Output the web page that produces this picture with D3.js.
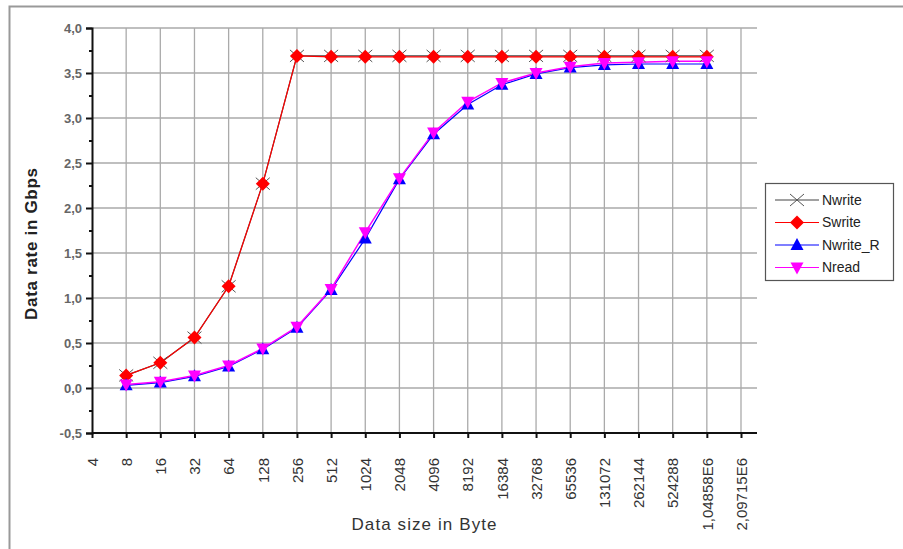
<!DOCTYPE html>
<html>
<head>
<meta charset="utf-8">
<script src="https://cdn.jsdelivr.net/npm/d3@7"></script>
<style>
  body { margin: 0; background: #fff; }
  text { font-family: Arial, "Liberation Sans", sans-serif; }
</style>
</head>
<body>
<div id="canvas"></div>
<script>
// x categories (data size in byte)
const sizes = ["4", "8", "16", "32", "64", "128", "256", "512", "1024", "2048", "4096", "8192",
  "16384", "32768", "65536", "131072", "262144", "524288", "1,04858E6", "2,09715E6"];
// points are measured from 8 up to 1,04858E6
const measured = sizes.slice(1, 19);

const nwrite  = [0.14, 0.28, 0.56, 1.13, 2.27, 3.69, 3.69, 3.69, 3.69, 3.69, 3.69, 3.69, 3.69, 3.69, 3.69, 3.69, 3.69, 3.69];
const swrite  = [0.14, 0.28, 0.56, 1.13, 2.27, 3.69, 3.68, 3.68, 3.68, 3.68, 3.68, 3.68, 3.68, 3.68, 3.68, 3.68, 3.68, 3.68];
const nwriteR = [0.03, 0.06, 0.13, 0.24, 0.43, 0.67, 1.09, 1.66, 2.32, 2.82, 3.15, 3.37, 3.49, 3.56, 3.59, 3.60, 3.60, 3.60];
const nread   = [0.04, 0.07, 0.14, 0.25, 0.44, 0.68, 1.10, 1.73, 2.33, 2.84, 3.18, 3.39, 3.50, 3.57, 3.61, 3.62, 3.63, 3.63];

const yTicks = [-0.5, 0, 0.5, 1, 1.5, 2, 2.5, 3, 3.5, 4];

const w = 903, h = 549;

const svg = d3.select("#canvas").append("svg").attr("width", w).attr("height", h);

// outer frame
svg.append("rect").attr("x", 9.5).attr("y", 6.5).attr("width", 1000).attr("height", 1000)
  .attr("fill", "none").attr("stroke", "#999").attr("stroke-width", 2);

const x = d3.scalePoint().domain(sizes).range([92, 741]);
const y = d3.scaleLinear().domain([-0.5, 4]).range([433, 28]);
const gridRight = 757;

// grid
svg.append("g").selectAll("line").data(yTicks.filter(d => d > -0.5)).enter().append("line")
  .attr("x1", 92).attr("x2", gridRight).attr("y1", d => y(d)).attr("y2", d => y(d))
  .attr("stroke", "#aaa").attr("stroke-width", 1.3);
svg.append("g").selectAll("line").data(sizes.slice(1)).enter().append("line")
  .attr("x1", d => x(d)).attr("x2", d => x(d)).attr("y1", y(4)).attr("y2", y(-0.5))
  .attr("stroke", "#aaa").attr("stroke-width", 1.3);

// y axis
const fmt = d => d3.format(".1f")(d).replace(".", ",").replace("−", "-");
const yAxis = svg.append("g").attr("transform", "translate(92,0)")
  .call(d3.axisLeft(y).tickValues(yTicks).tickFormat(fmt).tickSize(6).tickPadding(4));
svg.append("g").attr("transform", "translate(92,0)")
  .call(d3.axisLeft(y).tickValues(d3.range(-0.25, 4, 0.5)).tickFormat("").tickSize(3))
  .select(".domain").remove();
yAxis.selectAll("text").attr("font-size", 13).attr("fill", "#666").attr("font-weight", "bold");

// x axis
const xAxis = svg.append("g").attr("transform", "translate(0,433)")
  .call(d3.axisBottom(x).tickSize(5).tickSizeOuter(0));
xAxis.selectAll("text")
  .attr("transform", "rotate(-90)")
  .attr("text-anchor", "end")
  .attr("x", -25).attr("y", 0).attr("dy", "0.35em")
  .attr("font-size", 15).attr("fill", "#333");
xAxis.select(".domain").attr("d", "M92,0H" + gridRight);

svg.selectAll(".domain, .tick line").attr("stroke", "#111").attr("stroke-width", 2);

// axis labels
svg.append("text").attr("x", 424).attr("y", 530).attr("text-anchor", "middle")
  .attr("font-size", 17).attr("textLength", 145).attr("fill", "#333").text("Data size in Byte");
svg.append("text").attr("transform", "translate(37,244) rotate(-90)").attr("text-anchor", "middle")
  .attr("font-size", 17).attr("textLength", 152).attr("font-weight", "bold").attr("fill", "#222")
  .text("Data rate in Gbps");

// series
const series = [
  { name: "Nwrite", values: nwrite, color: "#444", marker: "x", width: 1.2 },
  { name: "Swrite", values: swrite, color: "#ff0000", marker: "diamond", width: 1.2 },
  { name: "Nwrite_R", values: nwriteR, color: "#0000ff", marker: "up", width: 1.2 },
  { name: "Nread", values: nread, color: "#ff00ff", marker: "down", width: 1.5 }
];

function drawMarker(g, type, color) {
  if (type === "x") {
    g.append("path").attr("d", "M-7,-6L7,6M-7,6L7,-6").attr("stroke", "#555").attr("stroke-width", 1).attr("fill", "none");
  } else if (type === "diamond") {
    g.append("path").attr("d", "M0,-7L7,0L0,7L-7,0Z").attr("fill", color);
  } else if (type === "up") {
    g.append("path").attr("d", "M0,-7L6.5,5L-6.5,5Z").attr("fill", color);
  } else {
    g.append("path").attr("d", "M0,7L6.5,-5L-6.5,-5Z").attr("fill", color);
  }
}

const line = d3.line().x((d, i) => x(measured[i])).y(d => y(d));
series.forEach(s => {
  svg.append("path").datum(s.values).attr("d", line)
    .attr("fill", "none").attr("stroke", s.color).attr("stroke-width", s.width);
});
series.forEach(s => {
  s.values.forEach((v, i) => {
    const g = svg.append("g").attr("transform", `translate(${x(measured[i])},${y(v)})`);
    drawMarker(g, s.marker, s.color);
  });
});

// legend
const lg = svg.append("g").attr("transform", "translate(765,183)");
lg.append("rect").attr("x", 0.5).attr("y", 0.5).attr("width", 128).attr("height", 97)
  .attr("fill", "#fff").attr("stroke", "#555").attr("stroke-width", 1.2);
series.forEach((s, i) => {
  const yy = 17 + i * 22.5;
  lg.append("line").attr("x1", 10).attr("x2", 54).attr("y1", yy).attr("y2", yy)
    .attr("stroke", s.color).attr("stroke-width", 1.2);
  drawMarker(lg.append("g").attr("transform", `translate(32,${yy})`), s.marker, s.color);
  lg.append("text").attr("x", 57).attr("y", yy).attr("dy", "0.35em")
    .attr("font-size", 14).attr("fill", "#222").text(s.name);
});
</script>
</body>
</html>
